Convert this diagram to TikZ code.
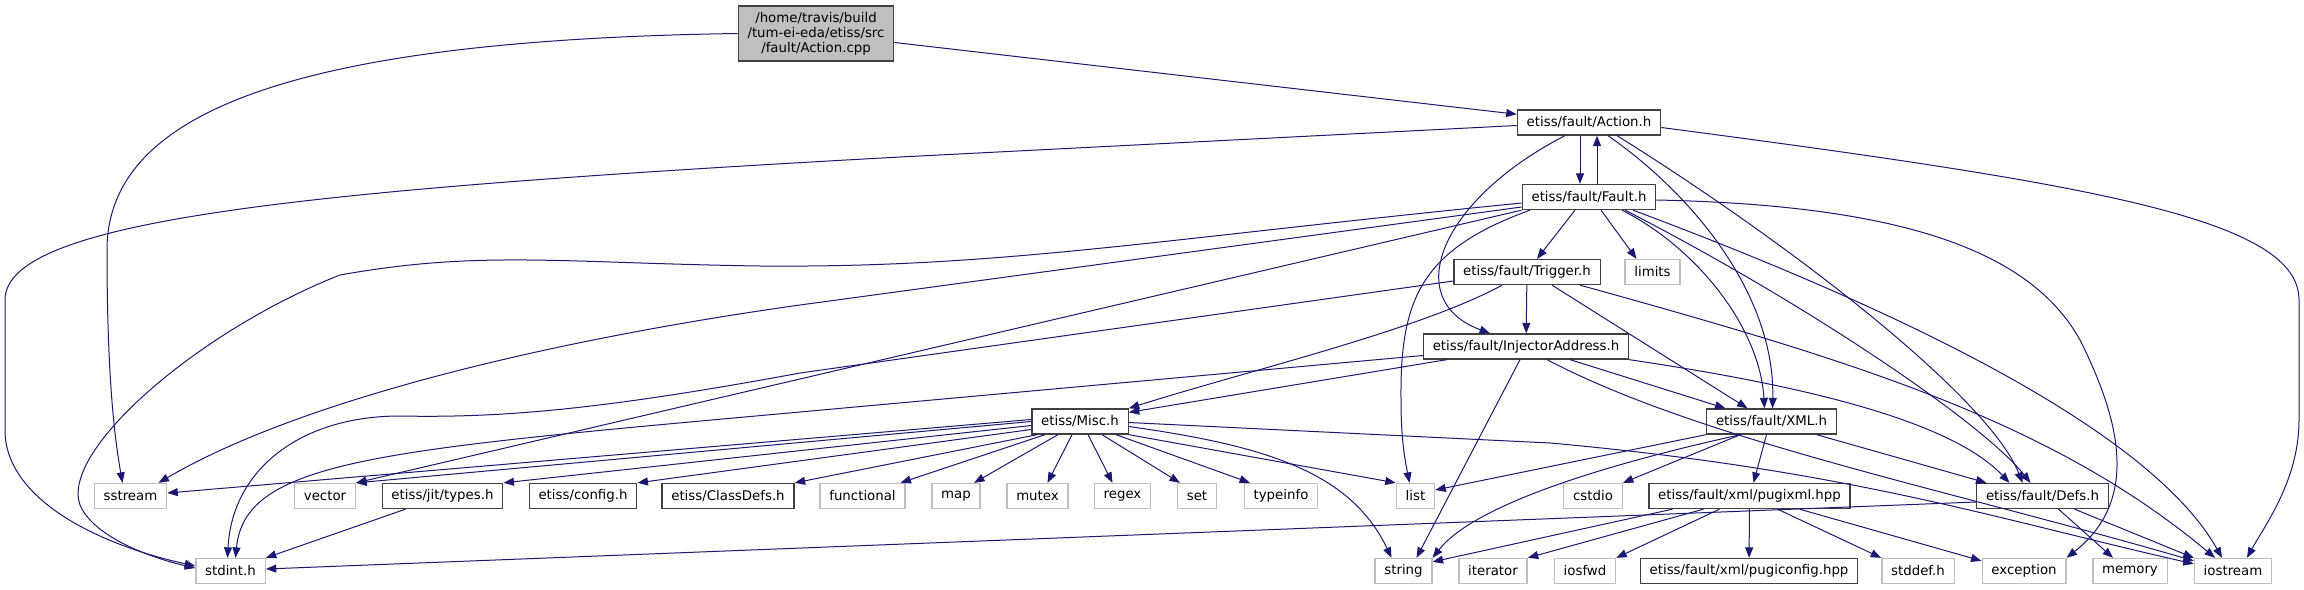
\documentclass[tikz,border=0pt]{standalone}
\usepackage{fontspec}
\setmainfont{DejaVu Sans}
\usetikzlibrary{arrows.meta}
\definecolor{edgeblue}{HTML}{191970}
\definecolor{boxgray}{HTML}{BFBFBF}
\definecolor{boxline}{HTML}{404040}
\tikzset{
    filenode/.style={draw, line width=1.3pt, minimum height=25pt, inner xsep=9.3pt, inner ysep=0pt,
        font=\fontsize{13.33}{15}\selectfont},
    docnode/.style={filenode, draw=boxline},
    sysnode/.style={filenode, draw=boxgray},
    srcnode/.style={docnode, fill=boxgray, align=center, minimum height=55pt},
    incl/.style={draw=edgeblue, line width=1pt, -{Triangle[length=10.5pt,width=8pt]}},
}
\begin{document}
\begin{tikzpicture}[x=1pt,y=-1pt]
        \useasboundingbox (0,0) rectangle (2304,589);

        \node[srcnode] (cpp) at (816,33.5) {/home/travis/build\\/tum-ei-eda/etiss/src\\/fault/Action.cpp};

        \node[docnode] (actionh) at (1589,122.5) {etiss/fault/Action.h};
        \node[docnode] (faulth) at (1589,197) {etiss/fault/Fault.h};
        \node[docnode] (triggerh) at (1527,272) {etiss/fault/Trigger.h};
        \node[sysnode] (limits) at (1652.5,272) {limits};
        \node[docnode] (injaddr) at (1526,346.5) {etiss/fault/InjectorAddress.h};
        \node[docnode] (misch) at (1080,421.5) {etiss/Misc.h};
        \node[docnode] (xmlh) at (1771.5,421.5) {etiss/fault/XML.h};

        \node[sysnode] (sstream) at (130.5,496) {sstream};
        \node[sysnode] (vector) at (325,496) {vector};
        \node[docnode] (typesh) at (442.5,496) {etiss/jit/types.h};
        \node[docnode] (configh) at (583,496) {etiss/config.h};
        \node[docnode] (classdefs) at (728,496) {etiss/ClassDefs.h};
        \node[sysnode] (functional) at (862.5,496) {functional};
        \node[sysnode] (map) at (956,496) {map};
        \node[sysnode] (mutex) at (1037.5,496) {mutex};
        \node[sysnode] (regex) at (1122.5,496) {regex};
        \node[sysnode] (set) at (1197,496) {set};
        \node[sysnode] (typeinfo) at (1281,496) {typeinfo};
        \node[sysnode] (list) at (1415.5,496) {list};
        \node[sysnode] (cstdio) at (1593,496) {cstdio};
        \node[docnode] (pugixml) at (1749.5,496) {etiss/fault/xml/pugixml.hpp};
        \node[docnode] (defsh) at (2042.5,496) {etiss/fault/Defs.h};

        \node[sysnode] (stdint) at (230.5,571) {stdint.h};
        \node[sysnode] (string) at (1403.5,571) {string};
        \node[sysnode] (iterator) at (1493,571) {iterator};
        \node[sysnode] (iosfwd) at (1585,571) {iosfwd};
        \node[docnode] (pugiconfig) at (1749,571) {etiss/fault/xml/pugiconfig.hpp};
        \node[sysnode] (stddef) at (1918,571) {stddef.h};
        \node[sysnode] (exception) at (2024,571) {exception};
        \node[sysnode] (memory) at (2130,571) {memory};
        \node[sysnode] (iostream) at (2233,571) {iostream};

        \draw[incl] (cpp.west) .. controls (300,40) and (107,110) .. (107,250) .. controls (107,380) and (115,440) .. ([xshift=-8pt]sstream.north);
        \draw[incl] (cpp) -- (actionh);

        \draw[incl] ([yshift=-3pt]actionh.west) -- (900,157) .. controls (300,190) and (5,220) .. (5,300) -- (5,430) .. controls (5,500) and (100,545) .. ([yshift=5pt]stdint.west);
        \draw[incl] ([xshift=-9pt]actionh.south) -- ([xshift=-9pt]faulth.north);
        \draw[incl] ([xshift=8pt]faulth.north) -- ([xshift=8pt]actionh.south);
        \draw[incl] ([xshift=-24pt]actionh.south) .. controls (1440,200) and (1400,300) .. ([xshift=-36pt]injaddr.north);
        \draw[incl] ([xshift=19pt]actionh.south) .. controls (1700,200) and (1775,300) .. ([xshift=1pt]xmlh.north);
        \draw[incl] ([xshift=28pt]actionh.south) .. controls (1800,250) and (1990,400) .. ([xshift=-20pt]defsh.north);
        \draw[incl] ([yshift=-5pt]actionh.east) .. controls (2100,185) and (2299,220) .. (2299,300) -- (2299,420) .. controls (2299,480) and (2265,525) .. ([xshift=14pt]iostream.north);

        \draw[incl] ([xshift=-14pt]faulth.south) -- ([xshift=10pt]triggerh.north);
        \draw[incl] ([xshift=12pt]faulth.south) -- ([xshift=-16pt]limits.north);
        \draw[incl] ([yshift=-6pt]faulth.west) .. controls (1150,240) and (1000,268) .. (760,266) .. controls (560,263) and (480,250) .. (340,275) .. controls (200,330) and (60,450) .. (80,505) .. controls (95,540) and (160,560) .. ([yshift=3pt]stdint.west);
        \draw[incl] ([yshift=-10pt]faulth.west) -- (800,305) .. controls (550,340) and (300,400) .. ([xshift=28pt]sstream.north);
        \draw[incl] (faulth.south west) -- (vector.north east);
        \draw[incl] ([xshift=-59pt]faulth.south) .. controls (1420,250) and (1400,300) .. (1401,400) .. controls (1401,440) and (1405,460) .. ([xshift=-6pt]list.north);
        \draw[incl] ([xshift=33pt]faulth.south) .. controls (1700,250) and (1760,330) .. ([xshift=-7pt]xmlh.north);
        \draw[incl] ([xshift=36pt]faulth.south) .. controls (1800,300) and (1980,420) .. ([xshift=-12pt]defsh.north);
        \draw[incl] ([xshift=44pt]faulth.south) .. controls (1900,310) and (2150,430) .. ([xshift=-11pt]iostream.north);
        \draw[incl] ([yshift=-3pt]faulth.east) .. controls (1900,205) and (2030,250) .. (2080,340) .. controls (2120,420) and (2140,500) .. (exception.north east);

        \draw[incl] (triggerh) -- (injaddr);
        \draw[incl] ([xshift=-25pt]triggerh.south) .. controls (1420,330) and (1250,370) .. (misch.north east);
        \draw[incl] ([xshift=25pt]triggerh.south) -- ([xshift=-24pt]xmlh.north);
        \draw[incl] ([xshift=53pt]triggerh.south) .. controls (1850,360) and (2050,420) .. ([xshift=-18pt]iostream.north);
        \draw[incl] ([yshift=-9pt]triggerh.west) -- (800,373) .. controls (600,410) and (500,418) .. (400,416) .. controls (300,416) and (232,470) .. ([xshift=-3pt]stdint.north);

        \draw[incl] ([xshift=24pt]injaddr.south west) -- ([yshift=-4pt]misch.north east);
        \draw[incl] ([yshift=-9pt]injaddr.west) -- (800,412) .. controls (380,450) and (245,460) .. ([xshift=5pt]stdint.north);
        \draw[incl] ([xshift=-6pt]injaddr.south) -- ([xshift=13pt]string.north);
        \draw[incl] ([xshift=44pt]injaddr.south) -- ([xshift=-46pt]xmlh.north);
        \draw[incl] (injaddr.south east) .. controls (1800,385) and (1950,420) .. ([xshift=-33pt]defsh.north);
        \draw[incl] ([xshift=21pt]injaddr.south) .. controls (1700,440) and (1950,490) .. ([yshift=-3pt]iostream.north west);

        \draw[incl] ([yshift=2pt]misch.west) -- ([yshift=3pt]sstream.east);
        \draw[incl] (misch.west) -- (vector.north east);
        \draw[incl] ([yshift=-4pt]misch.west) -- (typesh.north east);
        \draw[incl] ([yshift=-8pt]misch.west) -- (configh.north east);
        \draw[incl] ([xshift=6pt]misch.south west) -- (classdefs.north east);
        \draw[incl] ([xshift=-35pt]misch.south) -- ([xshift=38pt]functional.north);
        \draw[incl] ([xshift=-22pt]misch.south) -- ([xshift=18pt]map.north);
        \draw[incl] ([xshift=-8pt]misch.south) -- ([xshift=10pt]mutex.north);
        \draw[incl] ([xshift=8pt]misch.south) -- ([xshift=-10pt]regex.north);
        \draw[incl] ([xshift=22pt]misch.south) -- ([xshift=-17pt]set.north);
        \draw[incl] ([xshift=36pt]misch.south) -- ([xshift=-31pt]typeinfo.north);
        \draw[incl] (misch.south east) -- (list.north west);
        \draw[incl] ([yshift=-5pt]misch.east) .. controls (1260,445) and (1350,470) .. ([xshift=-12pt]string.north);
        \draw[incl] ([yshift=-1pt]misch.east) -- (1550,443) .. controls (1850,470) and (2000,520) .. ([yshift=-6pt]iostream.north west);

        \draw[incl] ([xshift=-37pt]typesh.south) -- (stdint.north east);

        \draw[incl] (xmlh.south west) -- ([yshift=6pt]list.east);
        \draw[incl] ([xshift=-31pt]xmlh.south) .. controls (1580,470) and (1470,510) .. (string.north east);
        \draw[incl] ([xshift=-31pt]xmlh.south) -- (cstdio.north east);
        \draw[incl] ([xshift=-5pt]xmlh.south) -- ([xshift=4pt]pugixml.north);
        \draw[incl] ([xshift=45pt]xmlh.south) -- ([xshift=-56pt]defsh.north);

        \draw[incl] ([xshift=-77pt]pugixml.south) -- ([yshift=-4pt]string.north east);
        \draw[incl] ([xshift=-46pt]pugixml.south) -- (iterator.north east);
        \draw[incl] ([xshift=-30pt]pugixml.south) -- (iosfwd.north east);
        \draw[incl] (pugixml) -- (pugiconfig);
        \draw[incl] ([xshift=28pt]pugixml.south) -- (stddef.north west);
        \draw[incl] ([xshift=50pt]pugixml.south) -- ([yshift=-3pt]exception.north west);

        \draw[incl] ([yshift=-6pt]defsh.west) -- ([yshift=2pt]stdint.east);
        \draw[incl] ([xshift=16pt]defsh.south) -- ([xshift=-17pt]memory.north);
        \draw[incl] ([xshift=32pt]defsh.south) -- (iostream.north west);
    \end{tikzpicture}
\end{document}
